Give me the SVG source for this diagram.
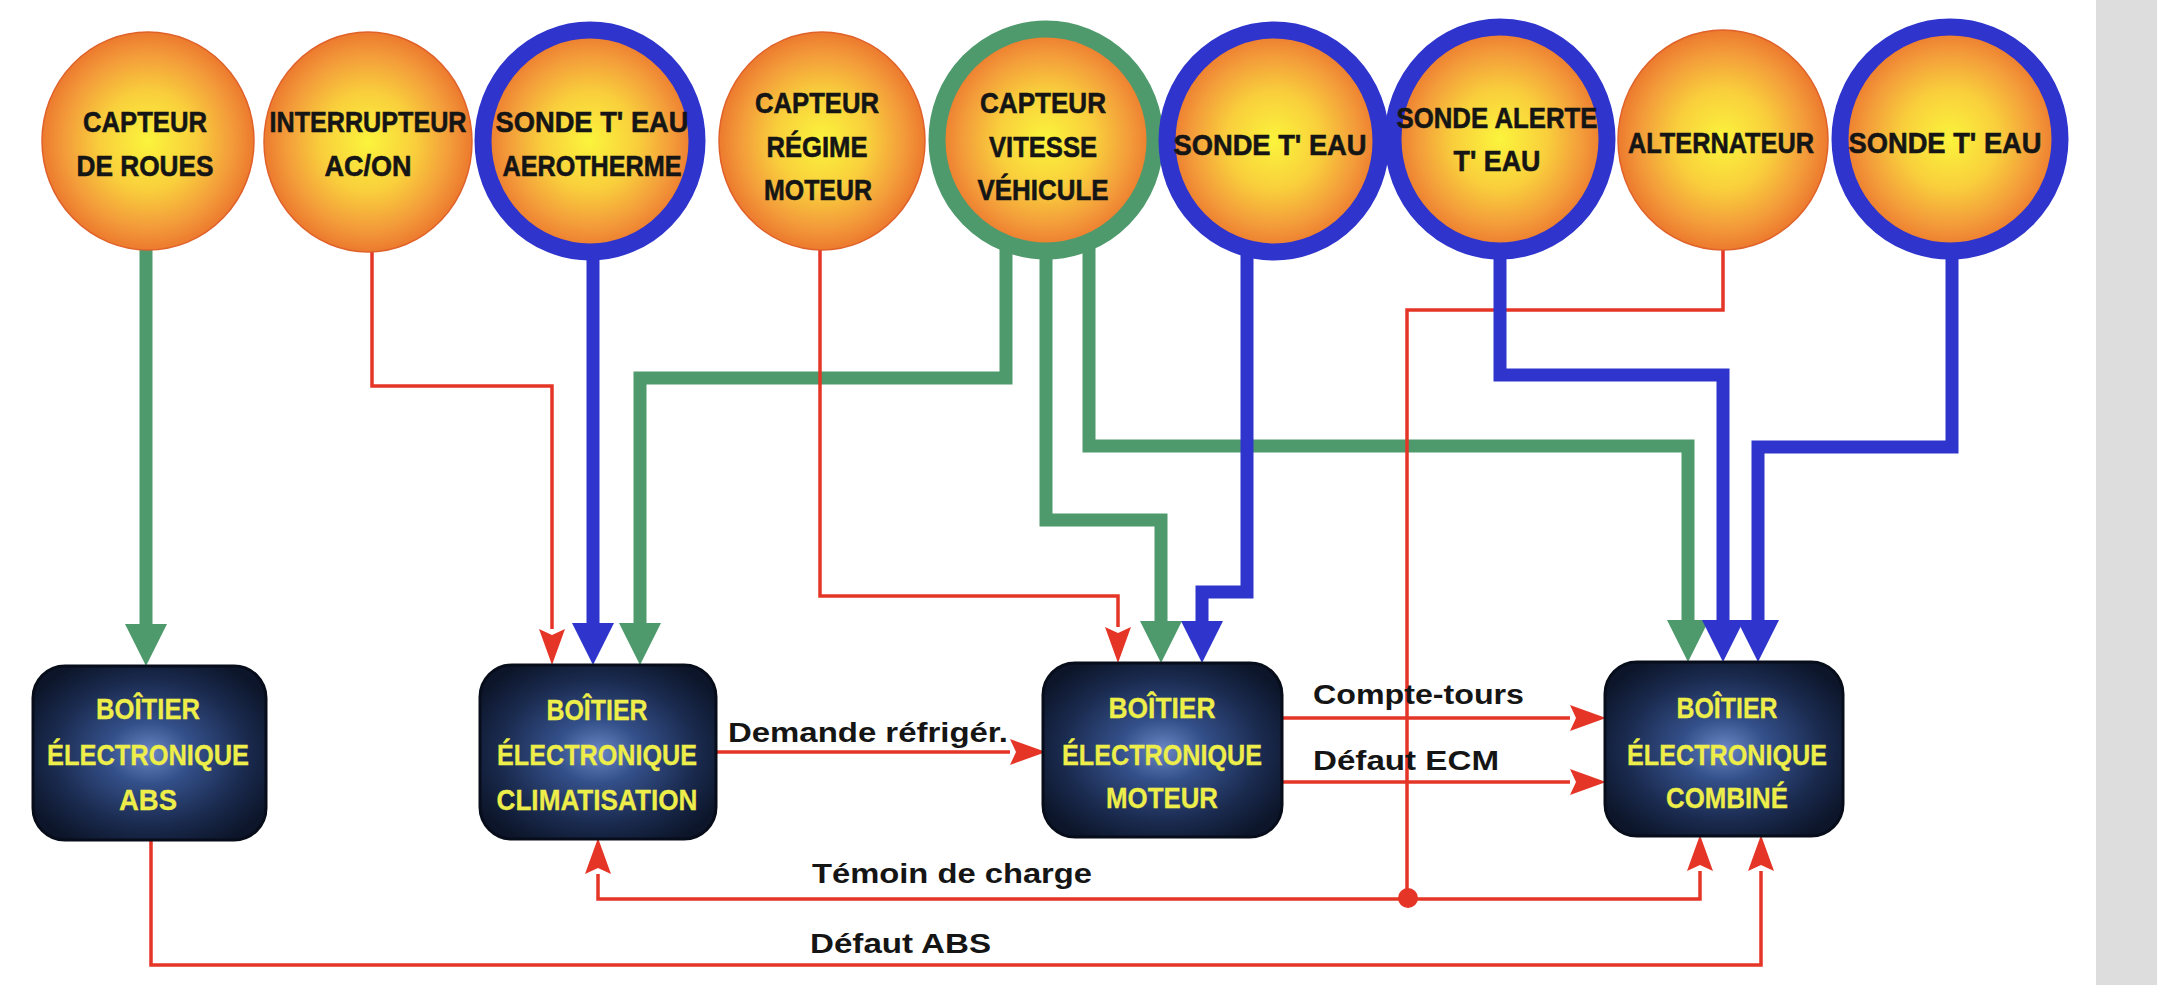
<svg xmlns="http://www.w3.org/2000/svg" width="2157" height="985" viewBox="0 0 2157 985">
<defs>
<radialGradient id="orange" cx="50%" cy="50%" r="50%">
<stop offset="0" stop-color="#fbf43c"/>
<stop offset="0.45" stop-color="#f9cf3c"/>
<stop offset="0.8" stop-color="#f39a3a"/>
<stop offset="1" stop-color="#ec7a2e"/>
</radialGradient>
<radialGradient id="navy" cx="50%" cy="50%" r="60%">
<stop offset="0" stop-color="#6a86c4"/>
<stop offset="0.3" stop-color="#34508a"/>
<stop offset="0.7" stop-color="#1a2a4e"/>
<stop offset="1" stop-color="#0c1529"/>
</radialGradient>
<marker id="hG" markerUnits="userSpaceOnUse" markerWidth="42" markerHeight="42" viewBox="0 0 42 42" refX="0" refY="21" orient="auto"><path d="M0,0 L42,21 L0,42 Z" fill="#4f9a6d"/></marker>
<marker id="hB" markerUnits="userSpaceOnUse" markerWidth="42" markerHeight="42" viewBox="0 0 42 42" refX="0" refY="21" orient="auto"><path d="M0,0 L42,21 L0,42 Z" fill="#2e34cc"/></marker>
<marker id="hR" markerUnits="userSpaceOnUse" markerWidth="36" markerHeight="26" viewBox="0 0 36 26" refX="0" refY="13" orient="auto"><path d="M0,0 L36,13 L0,26 L6,13 Z" fill="#e53526"/></marker>
</defs>
<style>
.g{fill:none;stroke:#4f9a6d;stroke-width:13;marker-end:url(#hG)}
.b{fill:none;stroke:#2e34cc;stroke-width:13;marker-end:url(#hB)}
.r{fill:none;stroke:#e53526;stroke-width:3.5}
.ra{fill:none;stroke:#e53526;stroke-width:3.5;marker-end:url(#hR)}
.sun{fill:url(#orange);stroke:#e0622a;stroke-width:1.5}
.ringB{fill:none;stroke:#2e34cc;stroke-width:17}
.ringG{fill:none;stroke:#4f9a6d;stroke-width:17}
.ct{font-family:"Liberation Sans",Arial,sans-serif;font-weight:bold;font-size:30px;fill:#151515;stroke:#151515;stroke-width:0.6;text-anchor:middle}
.box{fill:url(#navy);stroke:#070d1a;stroke-width:3}
.bt{font-family:"Liberation Sans",Arial,sans-serif;font-weight:bold;font-size:30px;fill:#eeee4a;stroke:#eeee4a;stroke-width:0.3;text-anchor:middle}
.lab{font-family:"Liberation Sans",Arial,sans-serif;font-weight:bold;font-size:27px;fill:#151515}
</style>
<rect x="0" y="0" width="2157" height="985" fill="#ffffff"/>
<rect x="2096" y="0" width="61" height="985" fill="#dddddd"/>

<g id="connectors">
<path class="g" d="M146,230 V624"/>
<path class="g" d="M1006,240 V378 H640 V623"/>
<path class="g" d="M1046,250 V520 H1161 V621"/>
<path class="g" d="M1089,245 V446 H1688 V620"/>
<path class="ra" d="M372,245 V386 H552 V629"/>
<path class="ra" d="M820,245 V596 H1118 V627"/>
<path class="r" d="M1723,245 V310 H1407 V898"/>
<path class="ra" d="M1407,899 H598 V874"/>
<path class="ra" d="M1407,899 H1700 V871"/>
<path class="ra" d="M151,840 V965 H1761 V871"/>
<path class="ra" d="M716,752 H1010"/>
<path class="ra" d="M1282,718 H1570"/>
<path class="ra" d="M1282,782 H1570"/>
<circle cx="1408" cy="898" r="10" fill="#e53526"/>
<path class="b" d="M593,250 V623"/>
<path class="b" d="M1247,250 V592 H1202 V621"/>
<path class="b" d="M1500,250 V375 H1723 V620"/>
<path class="b" d="M1952,250 V447 H1758 V620"/>
<text class="lab" x="728" y="742" textLength="280" lengthAdjust="spacingAndGlyphs">Demande réfrigér.</text>
<text class="lab" x="1313" y="704" textLength="211" lengthAdjust="spacingAndGlyphs">Compte-tours</text>
<text class="lab" x="1313" y="770" textLength="186" lengthAdjust="spacingAndGlyphs">Défaut ECM</text>
<text class="lab" x="812" y="883" textLength="280" lengthAdjust="spacingAndGlyphs">Témoin de charge</text>
<text class="lab" x="810" y="953" textLength="181" lengthAdjust="spacingAndGlyphs">Défaut ABS</text>
</g>

<g id="capteur-roues">
<ellipse class="sun" cx="148" cy="141" rx="106" ry="109"/>
<text class="ct" x="145" y="132" textLength="124" lengthAdjust="spacingAndGlyphs">CAPTEUR</text>
<text class="ct" x="145" y="176" textLength="137" lengthAdjust="spacingAndGlyphs">DE ROUES</text>
</g>
<g id="interrupteur">
<ellipse class="sun" cx="368" cy="142" rx="104" ry="110"/>
<text class="ct" x="368" y="132" textLength="197" lengthAdjust="spacingAndGlyphs">INTERRUPTEUR</text>
<text class="ct" x="368" y="176" textLength="87" lengthAdjust="spacingAndGlyphs">AC/ON</text>
</g>
<g id="sonde-aerotherme">
<ellipse class="sun" cx="590" cy="141" rx="104" ry="108"/>
<ellipse class="ringB" cx="590" cy="141" rx="107" ry="111"/>
<text class="ct" x="592" y="132" textLength="193" lengthAdjust="spacingAndGlyphs">SONDE T' EAU</text>
<text class="ct" x="592" y="176" textLength="179" lengthAdjust="spacingAndGlyphs">AEROTHERME</text>
</g>
<g id="capteur-regime">
<ellipse class="sun" cx="822" cy="141" rx="103" ry="109"/>
<text class="ct" x="817" y="113" textLength="124" lengthAdjust="spacingAndGlyphs">CAPTEUR</text>
<text class="ct" x="817" y="157" textLength="101" lengthAdjust="spacingAndGlyphs">RÉGIME</text>
<text class="ct" x="818" y="200" textLength="108" lengthAdjust="spacingAndGlyphs">MOTEUR</text>
</g>
<g id="capteur-vitesse">
<ellipse class="sun" cx="1046" cy="140" rx="106" ry="108"/>
<ellipse class="ringG" cx="1046" cy="140" rx="109" ry="111"/>
<text class="ct" x="1043" y="113" textLength="126" lengthAdjust="spacingAndGlyphs">CAPTEUR</text>
<text class="ct" x="1043" y="157" textLength="108" lengthAdjust="spacingAndGlyphs">VITESSE</text>
<text class="ct" x="1043" y="200" textLength="131" lengthAdjust="spacingAndGlyphs">VÉHICULE</text>
</g>
<g id="sonde-eau-1">
<ellipse class="sun" cx="1274" cy="141" rx="104" ry="108"/>
<ellipse class="ringB" cx="1274" cy="141" rx="107" ry="111"/>
<text class="ct" x="1270" y="155" textLength="193" lengthAdjust="spacingAndGlyphs">SONDE T' EAU</text>
</g>
<g id="sonde-alerte">
<ellipse class="sun" cx="1500" cy="139" rx="104" ry="109"/>
<ellipse class="ringB" cx="1500" cy="139" rx="107" ry="112"/>
<text class="ct" x="1497" y="128" textLength="201" lengthAdjust="spacingAndGlyphs">SONDE ALERTE</text>
<text class="ct" x="1497" y="171" textLength="87" lengthAdjust="spacingAndGlyphs">T' EAU</text>
</g>
<g id="alternateur">
<ellipse class="sun" cx="1723" cy="140" rx="105" ry="110"/>
<text class="ct" x="1721" y="153" textLength="186" lengthAdjust="spacingAndGlyphs">ALTERNATEUR</text>
</g>
<g id="sonde-eau-2">
<ellipse class="sun" cx="1950" cy="139" rx="107" ry="109"/>
<ellipse class="ringB" cx="1950" cy="139" rx="110" ry="112"/>
<text class="ct" x="1945" y="153" textLength="193" lengthAdjust="spacingAndGlyphs">SONDE T' EAU</text>
</g>

<g id="boitier-abs">
<rect class="box" x="33" y="666" width="233" height="174" rx="32"/>
<text class="bt" x="148" y="719" textLength="104" lengthAdjust="spacingAndGlyphs">BOÎTIER</text>
<text class="bt" x="148" y="765" textLength="202" lengthAdjust="spacingAndGlyphs">ÉLECTRONIQUE</text>
<text class="bt" x="148" y="810" textLength="58" lengthAdjust="spacingAndGlyphs">ABS</text>
</g>
<g id="boitier-climatisation">
<rect class="box" x="480" y="665" width="236" height="174" rx="32"/>
<text class="bt" x="597" y="720" textLength="101" lengthAdjust="spacingAndGlyphs">BOÎTIER</text>
<text class="bt" x="597" y="765" textLength="200" lengthAdjust="spacingAndGlyphs">ÉLECTRONIQUE</text>
<text class="bt" x="597" y="810" textLength="201" lengthAdjust="spacingAndGlyphs">CLIMATISATION</text>
</g>
<g id="boitier-moteur">
<rect class="box" x="1043" y="663" width="239" height="174" rx="32"/>
<text class="bt" x="1162" y="718" textLength="107" lengthAdjust="spacingAndGlyphs">BOÎTIER</text>
<text class="bt" x="1162" y="765" textLength="200" lengthAdjust="spacingAndGlyphs">ÉLECTRONIQUE</text>
<text class="bt" x="1162" y="808" textLength="112" lengthAdjust="spacingAndGlyphs">MOTEUR</text>
</g>
<g id="boitier-combine">
<rect class="box" x="1605" y="662" width="238" height="174" rx="32"/>
<text class="bt" x="1727" y="718" textLength="101" lengthAdjust="spacingAndGlyphs">BOÎTIER</text>
<text class="bt" x="1727" y="765" textLength="200" lengthAdjust="spacingAndGlyphs">ÉLECTRONIQUE</text>
<text class="bt" x="1727" y="808" textLength="122" lengthAdjust="spacingAndGlyphs">COMBINÉ</text>
</g>
</svg>
